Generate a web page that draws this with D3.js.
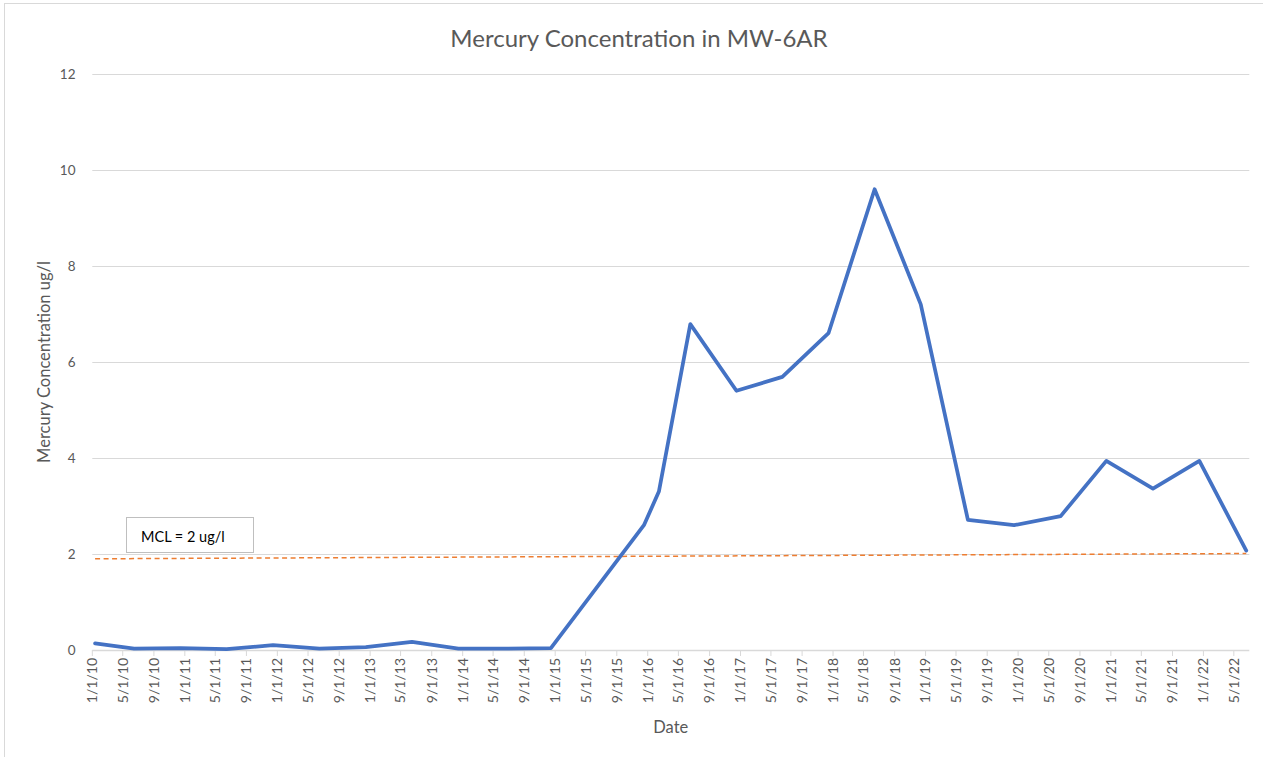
<!DOCTYPE html>
<html>
<head>
<meta charset="utf-8">
<script src="https://cdn.jsdelivr.net/npm/d3@7"></script>
<style>
  html, body { margin: 0; padding: 0; background: #fff; }
  svg { display: block; font-family: Lato, "Open Sans", sans-serif; }
</style>
</head>
<body>
<svg id="chart" width="1263" height="757"></svg>
<script>
// ---- data ----
const sampleDates = [
  "2010-01-12", "2010-06-15", "2010-12-15", "2011-06-15", "2011-12-15",
  "2012-06-15", "2012-12-15", "2013-06-15", "2013-12-15", "2014-06-15",
  "2014-12-15", "2015-12-17", "2016-02-14", "2016-06-17", "2016-12-16",
  "2017-06-15", "2017-12-14", "2018-06-14", "2018-12-13", "2019-06-17",
  "2019-12-16", "2020-06-17", "2020-12-14", "2021-06-16", "2021-12-16",
  "2022-06-19"
];
const mercury = [
  0.14, 0.03, 0.04, 0.02, 0.10,
  0.03, 0.06, 0.17, 0.03, 0.03,
  0.04, 2.60, 3.30, 6.79, 5.40,
  5.69, 6.60, 9.60, 7.20, 2.71,
  2.60, 2.79, 3.94, 3.36, 3.94,
  2.07
];
const mclDates = ["2010-01-12", "2022-06-19"];
const mclValues = [1.90, 2.01];
const yTicks = [0, 2, 4, 6, 8, 10, 12];
const xDomain = ["2010-01-01", "2022-07-01"];
const titleText = "Mercury Concentration in MW-6AR";
const yTitle = "Mercury Concentration ug/l";
const xTitle = "Date";
const mclLabel = "MCL = 2 ug/l";

// ---- layout ----
const svg = d3.select("#chart");
const pLeft = 92.3, pRight = 1249.3, pTop = 74, pBottom = 650;
const parse = d3.utcParse("%Y-%m-%d");
const x = d3.scaleUtc().domain(xDomain.map(parse)).range([pLeft, pRight]);
const y = d3.scaleLinear().domain([0, 12]).range([pBottom, pTop]);

// outer border
svg.append("rect").attr("x", 4.5).attr("y", 3.5).attr("width", 1300).attr("height", 800)
  .attr("fill", "none").attr("stroke", "#d9d9d9").attr("stroke-width", 1);

// gridlines
svg.append("g").selectAll("line").data(yTicks).join("line")
  .attr("x1", pLeft).attr("x2", pRight)
  .attr("y1", d => Math.round(y(d)) + 0.5).attr("y2", d => Math.round(y(d)) + 0.5)
  .attr("stroke", "#d9d9d9").attr("stroke-width", d => d === 0 ? 1.5 : 1);

// y tick labels
svg.append("g").selectAll("text").data(yTicks).join("text")
  .attr("x", 75.5).attr("y", d => y(d)).attr("dy", "0.35em")
  .attr("text-anchor", "end").attr("font-size", 13.5).attr("fill", "#595959")
  .text(d => d);

// x axis ticks and labels
const xTickVals = x.ticks(d3.utcMonth.every(4));
const fmt = d => `${d.getUTCMonth() + 1}/${d.getUTCDate()}/${String(d.getUTCFullYear()).slice(2)}`;
svg.append("g").selectAll("line").data(xTickVals).join("line")
  .attr("x1", d => x(d)).attr("x2", d => x(d))
  .attr("y1", pBottom).attr("y2", pBottom + 6)
  .attr("stroke", "#d9d9d9").attr("stroke-width", 1);
svg.append("g").selectAll("text").data(xTickVals).join("text")
  .attr("transform", d => `translate(${x(d)},${pBottom + 8}) rotate(-90)`)
  .attr("dy", "0.35em").attr("text-anchor", "end")
  .attr("font-size", 14).attr("fill", "#595959")
  .text(fmt);

// MCL dashed line
const mclData = mclDates.map((d, i) => ({ date: parse(d), v: mclValues[i] }));
svg.append("path").datum(mclData)
  .attr("d", d3.line().x(d => x(d.date)).y(d => y(d.v)))
  .attr("fill", "none").attr("stroke", "#ED7D31").attr("stroke-width", 1.5)
  .attr("stroke-dasharray", "5,3.5");

// mercury line
const data = sampleDates.map((d, i) => ({ date: parse(d), v: mercury[i] }));
svg.append("path").datum(data)
  .attr("d", d3.line().x(d => x(d.date)).y(d => y(d.v)))
  .attr("fill", "none").attr("stroke", "#4472C4").attr("stroke-width", 3.75)
  .attr("stroke-linejoin", "round").attr("stroke-linecap", "round");

// MCL text box
svg.append("rect").attr("x", 126.5).attr("y", 517.5).attr("width", 127).attr("height", 35)
  .attr("fill", "#fff").attr("stroke", "#bfbfbf").attr("stroke-width", 1);
svg.append("text").attr("x", 141).attr("y", 542).attr("font-size", 14.5).attr("fill", "#000")
  .text(mclLabel);

// titles
svg.append("text").attr("x", 639).attr("y", 47).attr("text-anchor", "middle")
  .attr("font-size", 24).attr("fill", "#595959").text(titleText);
svg.append("text").attr("transform", `translate(49.5,${(pTop + pBottom) / 2}) rotate(-90)`)
  .attr("text-anchor", "middle").attr("font-size", 16.5).attr("fill", "#595959").text(yTitle);
svg.append("text").attr("x", (pLeft + pRight) / 2).attr("y", 733).attr("text-anchor", "middle")
  .attr("font-size", 16.5).attr("fill", "#595959").text(xTitle);
</script>
</body>
</html>
